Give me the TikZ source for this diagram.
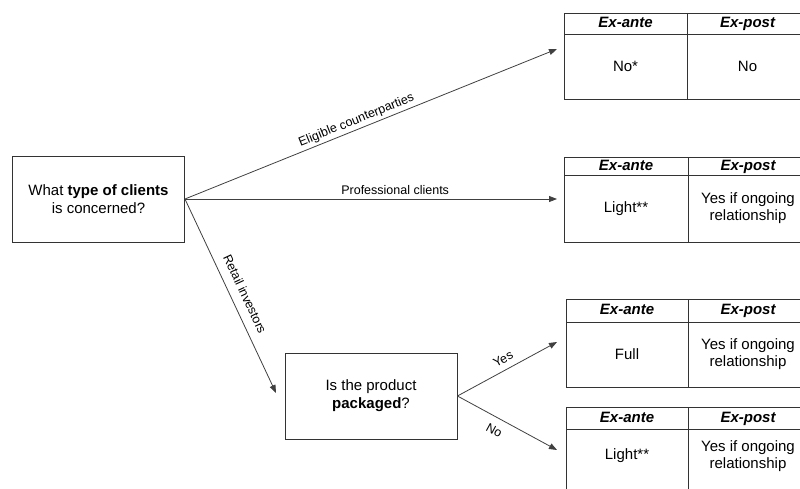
\documentclass[tikz,border=0pt]{standalone}
\usepackage{fontspec}
\setmainfont{Liberation Sans}
\usetikzlibrary{arrows.meta}
\definecolor{linec}{HTML}{333333}
\definecolor{arrc}{HTML}{404040}
\begin{document}
\begin{tikzpicture}[x=1pt,y=-1pt,
  box/.style={draw=linec, line width=0.9pt, minimum width=172pt, minimum height=86pt, align=center, font=\fontsize{15}{18}\selectfont, inner sep=0pt},
  conn/.style={draw=arrc, line width=0.8pt, -{Triangle[length=8pt,width=6pt]}},
  lab/.style={font=\fontsize{12.5}{14}\selectfont, sloped, inner sep=1pt, text=black},
  tab/.style={draw=linec, line width=0.9pt},
  hd/.style={font=\fontsize{15}{18}\selectfont\bfseries\itshape, inner sep=0pt, text height=11pt, text depth=3pt},
  cell/.style={font=\fontsize{15}{17}\selectfont, align=center, inner sep=0pt}
]
\useasboundingbox (0,0) rectangle (800,488);
\clip (0,0) rectangle (800,488);

% decision boxes
\node[box] (q1) at (98.5,199) {What \textbf{type of clients}\\is concerned?};
\node[box] (q2) at (371,396) {Is the product\\\textbf{packaged}?};

% arrow end points
\coordinate (e1) at (557,49);
\coordinate (e2) at (557,199);
\coordinate (e3) at (276,393);
\coordinate (e4) at (557,342);
\coordinate (e5) at (557,450);

% connectors
\draw[conn] (q1.east) -- node[lab, pos=0.47, above=1.5pt] {Eligible counterparties} (e1);
\draw[conn] (q1.east) -- node[lab, pos=0.565, above=3pt] {Professional clients} (e2);
\draw[conn] (q1.east) -- node[lab, pos=0.52, above=8pt] {Retail investors} (e3);
\draw[conn] (q2.east) -- node[lab, pos=0.51, above=5pt] {Yes} (e4);
\draw[conn] (q2.east) -- node[lab, pos=0.43, below=7pt] {No} (e5);

% table 1
\draw[tab] (564,13) rectangle (808,99);
\draw[tab] (564,34) -- (808,34);
\draw[tab] (687,13) -- (687,99);
\node[hd] (t1a) at (625.5,23.5) {Ex-ante};
\node[hd] (t1b) at (747.5,23.5) {Ex-post};
\node[cell] (t1c) at (625.5,66.5) {No*};
\node[cell] (t1d) at (747.5,66.5) {No};

% table 2
\draw[tab] (564,157) rectangle (808,242);
\draw[tab] (564,175) -- (808,175);
\draw[tab] (688,157) -- (688,242);
\node[hd] (t2a) at (626,166) {Ex-ante};
\node[hd] (t2b) at (748,166) {Ex-post};
\node[cell] (t2c) at (626,208.5) {Light**};
\node[cell] (t2d) at (748,208.5) {Yes if ongoing\\relationship};

% table 3
\draw[tab] (566,299) rectangle (808,387);
\draw[tab] (566,322) -- (808,322);
\draw[tab] (688,299) -- (688,387);
\node[hd] (t3a) at (627,310.5) {Ex-ante};
\node[hd] (t3b) at (748,310.5) {Ex-post};
\node[cell] (t3c) at (627,354) {Full};
\node[cell] (t3d) at (748,354) {Yes if ongoing\\relationship};

% table 4
\draw[tab] (566,407) rectangle (808,495);
\draw[tab] (566,429) -- (808,429);
\draw[tab] (688,407) -- (688,495);
\node[hd] (t4a) at (627,418) {Ex-ante};
\node[hd] (t4b) at (748,418) {Ex-post};
\node[cell] (t4c) at (627,456) {Light**};
\node[cell] (t4d) at (748,456) {Yes if ongoing\\relationship};
\end{tikzpicture}
\end{document}
